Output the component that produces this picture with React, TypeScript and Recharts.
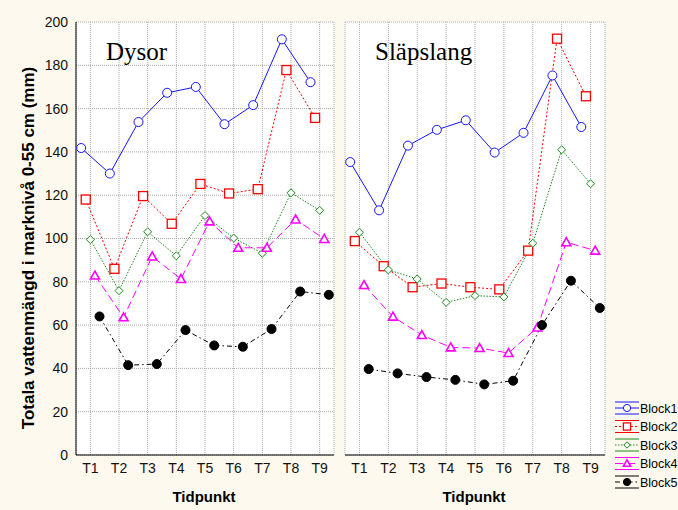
import React from "react";
import { CartesianGrid, Line, LineChart, XAxis, YAxis } from "recharts";

const TIMES = ["T1", "T2", "T3", "T4", "T5", "T6", "T7", "T8", "T9"];
const Y_TICKS = [0, 20, 40, 60, 80, 100, 120, 140, 160, 180, 200];
const BLOCKS = ["Block1", "Block2", "Block3", "Block4", "Block5"];

// Dysor
const dysorBlock1 = [141.8, 130, 153.8, 167.3, 170, 152.8, 161.6, 192, 172.2];
const dysorBlock2 = [118, 86, 119.6, 106.8, 125.2, 120.8, 122.8, 177.8, 155.7];
const dysorBlock3 = [99.5, 75.9, 103.1, 92, 110.6, 100.2, 93.2, 121.1, 113];
const dysorBlock4 = [82.9, 63.6, 91.7, 81.3, 107.9, 95.7, 95.7, 108.8, 99.8];
const dysorBlock5 = [64, 41.5, 42, 57.7, 50.6, 50, 58.2, 75.5, 74];

// Släpslang
const slapBlock1 = [135.3, 113, 142.9, 150.2, 154.6, 139.7, 148.8, 175.3, 151.5];
const slapBlock2 = [98.8, 87.2, 77.5, 79.2, 77.5, 76.5, 94.4, 192.3, 165.7];
const slapBlock3 = [102.9, 85.5, 81.3, 70.5, 73.6, 73, 97.8, 141, 125.3];
const slapBlock4 = [78.5, 63.9, 55.4, 49.7, 49.4, 47.1, 58.9, 98.3, 94.4];
const slapBlock5 = [39.7, 37.7, 36, 34.7, 32.6, 34.3, 60, 80.5, 67.9];

const STYLES = [
  { color: "#1414ff", dash: undefined, shape: "circle" },
  { color: "#ff0000", dash: "2 2", shape: "square" },
  { color: "#1a8a1a", dash: "1.5 1.5", shape: "diamond" },
  { color: "#ff00ff", dash: "8 4", shape: "triangle" },
  { color: "#000000", dash: "5 3 1.5 3", shape: "dot" }
];

const DODGE = 0.16;
const FONT = "Arial, 'Liberation Sans', sans-serif";

const toPoints = (vals: number[], k: number) =>
  vals.map((v, i) => ({ t: i + 1 + (k - 2) * DODGE, v }));

const Marker = ({ cx, cy, shape, color, size = 1 }: any) => {
  if (cx == null || cy == null) return null;
  const r = 4.5 * size;
  if (shape === "circle")
    return <circle cx={cx} cy={cy} r={r} fill="#fff" stroke={color} strokeWidth={1} />;
  if (shape === "square")
    return <rect x={cx - r} y={cy - r} width={2 * r} height={2 * r} fill="#fff" stroke={color} strokeWidth={1.3} />;
  if (shape === "diamond") {
    const d = 4 * size;
    return (
      <path
        d={`M${cx},${cy - d} L${cx + d},${cy} L${cx},${cy + d} L${cx - d},${cy} Z`}
        fill="#fff"
        stroke={color}
        strokeWidth={1}
      />
    );
  }
  if (shape === "triangle")
    return (
      <path
        d={`M${cx},${cy - r} L${cx + r},${cy + r * 0.78} L${cx - r},${cy + r * 0.78} Z`}
        fill="#fff"
        stroke={color}
        strokeWidth={1.6}
      />
    );
  return <circle cx={cx} cy={cy} r={r} fill={color} stroke={color} />;
};

type PanelProps = {
  series: number[][];
  showY: boolean;
  width: number;
  marginLeft: number;
};

const Panel = ({ series, showY, width, marginLeft }: PanelProps) => (
  <LineChart
    width={width}
    height={510}
    margin={{ top: 22, right: 6, left: marginLeft, bottom: 25 }}
  >
    <CartesianGrid
      xAxisId="b"
      yAxisId="l"
      stroke="#a8a8a8"
      strokeDasharray="1 1"
      fill="#ffffff"
      fillOpacity={1}
    />
    <XAxis
      xAxisId="b"
      dataKey="t"
      type="number"
      domain={[0.5, 9.5]}
      ticks={[1, 2, 3, 4, 5, 6, 7, 8, 9]}
      tickFormatter={(v: number) => TIMES[v - 1]}
      height={30}
      stroke="#000"
      tickLine={false}
      tick={{ fill: "#111", fontSize: 14, fontFamily: FONT }}
      interval={0}
    />
    <XAxis xAxisId="top" orientation="top" dataKey="t" type="number" domain={[0.5, 9.5]} height={0} tick={false} tickLine={false} stroke="#000" />
    <YAxis
      yAxisId="l"
      domain={[0, 200]}
      ticks={Y_TICKS}
      width={showY ? 56 : 0}
      tick={showY ? { fill: "#111", fontSize: 14, fontFamily: FONT } : false}
      tickLine={false}
      stroke="#000"
      interval={0}
    />
    <YAxis yAxisId="r" orientation="right" domain={[0, 200]} width={0} tick={false} tickLine={false} stroke="#000" />
    {series.map((vals, k) => (
      <Line
        key={BLOCKS[k]}
        xAxisId="b"
        yAxisId="l"
        data={toPoints(vals, k)}
        dataKey="v"
        name={BLOCKS[k]}
        stroke={STYLES[k].color}
        strokeWidth={1}
        strokeDasharray={STYLES[k].dash}
        isAnimationActive={false}
        dot={(p: any) => (
          <Marker key={`${k}-${p.index}`} cx={p.cx} cy={p.cy} shape={STYLES[k].shape} color={STYLES[k].color} />
        )}
        activeDot={false}
      />
    ))}
  </LineChart>
);

const Legend = () => (
  <svg width={70} height={100} style={{ position: "absolute", left: 612, top: 396 }}>
    {BLOCKS.map((b, k) => {
      const y = 12 + k * 18.5;
      const s = STYLES[k];
      return (
        <g key={b}>
          <line x1={3} x2={27} y1={y - 6} y2={y - 6} stroke={s.color} />
          <line x1={3} x2={27} y1={y} y2={y} stroke={s.color} strokeDasharray={s.dash} />
          <line x1={3} x2={27} y1={y + 6} y2={y + 6} stroke={s.color} />
          <Marker cx={15} cy={y} shape={s.shape} color={s.color} size={0.8} />
          <text x={28} y={y + 4.5} fontSize={12.5} fontFamily={FONT} fill="#000">
            {b}
          </text>
        </g>
      );
    })}
  </svg>
);

export default function App() {
  return (
    <div
      style={{
        position: "absolute",
        left: 0,
        top: 0,
        width: 678,
        height: 510,
        background: "#fdf9ef",
        overflow: "hidden"
      }}
    >
      <div style={{ position: "absolute", left: 0, top: 0 }}>
        <Panel
          series={[dysorBlock1, dysorBlock2, dysorBlock3, dysorBlock4, dysorBlock5]}
          showY={true}
          width={340}
          marginLeft={20}
        />
      </div>
      <div style={{ position: "absolute", left: 340, top: 0 }}>
        <Panel
          series={[slapBlock1, slapBlock2, slapBlock3, slapBlock4, slapBlock5]}
          showY={false}
          width={271}
          marginLeft={5}
        />
      </div>
      <div style={{ position: "absolute", left: 106, top: 38, fontFamily: "'Liberation Serif', 'Times New Roman', serif", fontSize: 25 }}>
        Dysor
      </div>
      <div style={{ position: "absolute", left: 375, top: 38, fontFamily: "'Liberation Serif', 'Times New Roman', serif", fontSize: 25 }}>
        Släpslang
      </div>
      <div style={{ position: "absolute", left: 144, top: 488, width: 120, textAlign: "center", fontFamily: FONT, fontWeight: "bold", fontSize: 15 }}>
        Tidpunkt
      </div>
      <div style={{ position: "absolute", left: 414, top: 488, width: 120, textAlign: "center", fontFamily: FONT, fontWeight: "bold", fontSize: 15 }}>
        Tidpunkt
      </div>
      <div
        style={{
          position: "absolute",
          left: 29,
          top: 248,
          transform: "translate(-50%, -50%) rotate(-90deg)",
          whiteSpace: "nowrap",
          fontFamily: FONT,
          fontWeight: "bold",
          fontSize: 17
        }}
      >
        Totala vattenmängd i marknivå 0-55 cm (mm)
      </div>
      <Legend />
    </div>
  );
}
